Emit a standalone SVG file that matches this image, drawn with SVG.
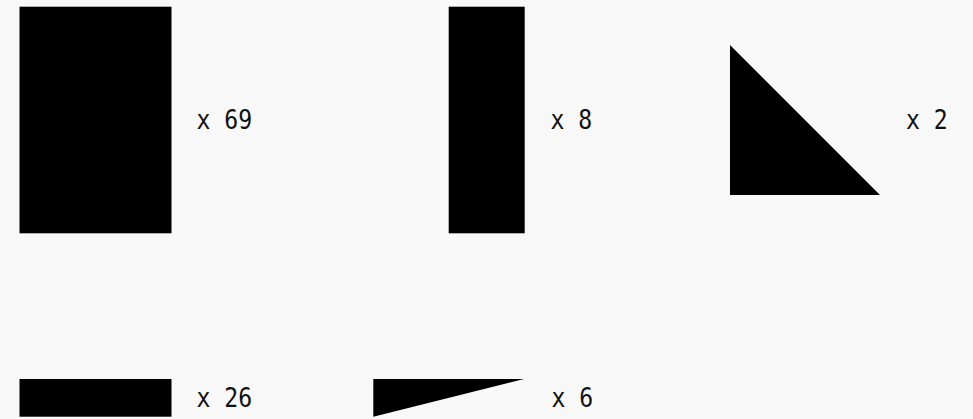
<svg xmlns="http://www.w3.org/2000/svg" width="973" height="419" viewBox="0 0 973 419">
<style>
.s{fill:#000}
.t{font-family:"DejaVu Sans Mono",monospace;font-size:26px;fill:#111}
</style>
<rect width="973" height="419" fill="#f8f8f8"/>
<g id="n1"><rect class="s" x="19.5" y="6.7" width="152" height="226.6"/><text class="t" transform="translate(196.5,129) scale(0.89,1)">x 69</text></g>
<g id="n2"><rect class="s" x="448.7" y="6.7" width="76" height="226.6"/><text class="t" transform="translate(550.5,129) scale(0.89,1)">x 8</text></g>
<g id="n3"><polygon class="s" points="730,45 730,195 880,195"/><text class="t" transform="translate(906,129) scale(0.89,1)">x 2</text></g>
<g id="n4"><rect class="s" x="19.5" y="379" width="152" height="37.7"/><text class="t" transform="translate(196.5,406.7) scale(0.89,1)">x 26</text></g>
<g id="n5"><polygon class="s" points="373.3,379 524,379 373.3,416.7"/><text class="t" transform="translate(551.5,406.7) scale(0.89,1)">x 6</text></g>
<g id="connectors"/>
</svg>
